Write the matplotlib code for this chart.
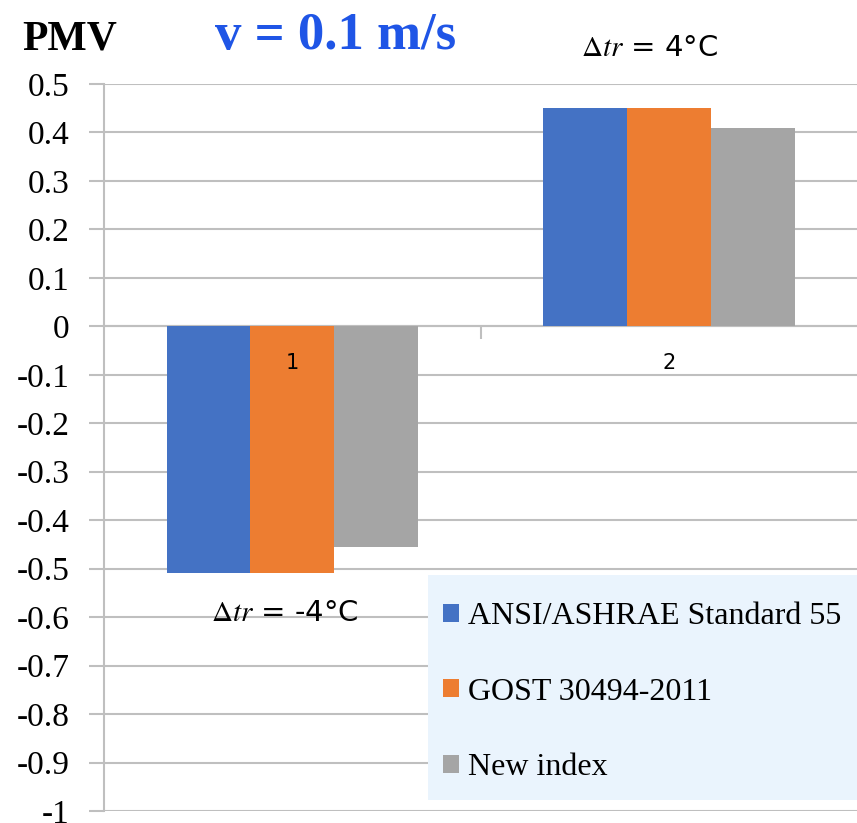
import matplotlib.pyplot as plt
from matplotlib.patches import Rectangle
from matplotlib.ticker import FixedLocator

# PMV values for the two radiant temperature asymmetry cases
categories = ["1", "2"]
ashrae = [-0.51, 0.45]
gost = [-0.51, 0.45]
new_index = [-0.455, 0.41]
series_names = ["ANSI/ASHRAE Standard 55", "GOST 30494-2011", "New index"]
case_labels = [r"$\Delta tr$ = -4°C", r"$\Delta tr$ = 4°C"]
y_ticks = [0.5, 0.4, 0.3, 0.2, 0.1, 0, -0.1, -0.2, -0.3, -0.4, -0.5,
           -0.6, -0.7, -0.8, -0.9, -1]

colors = ["#4472C4", "#ED7D31", "#A5A5A5"]
grid_col = "#BFBFBF"

plt.rcParams["mathtext.fontset"] = "stix"

fig = plt.figure(figsize=(8.57, 8.23), dpi=100)
ax = fig.add_axes([0.1214, 0.0146, 0.8786, 0.8834])

x = [1, 2]
w = 0.2227
for i, (vals, name) in enumerate(zip([ashrae, gost, new_index], series_names)):
    xs = [xi + (i - 1) * w for xi in x]
    ax.bar(xs, vals, width=w, color=colors[i], label=name, zorder=3)

ax.set_xlim(0.5, 2.5)
ax.set_ylim(-1, 0.5)

# y axis: gridlines every 0.1, labels in serif
ax.set_yticks(y_ticks)
ax.set_yticklabels([f"{v:g}" for v in y_ticks], fontfamily="Liberation Serif", fontsize=24)
ax.yaxis.grid(True, color=grid_col, linewidth=1.5, zorder=0)
ax.tick_params(axis="y", length=11, width=1.5, color=grid_col, pad=14)

# x axis sits on zero
ax.spines["bottom"].set_position(("data", 0))
ax.spines["bottom"].set_color(grid_col)
ax.spines["bottom"].set_linewidth(1.5)
ax.spines["left"].set_color(grid_col)
ax.spines["left"].set_linewidth(1.5)
ax.spines["top"].set_visible(False)
ax.spines["right"].set_visible(False)
ax.set_xticks([])
ax.xaxis.set_minor_locator(FixedLocator([1.5]))
ax.tick_params(axis="x", which="minor", length=9, width=1.5, color=grid_col)

# category labels drawn over the bars
for xi, lab in zip(x, categories):
    ax.text(xi, -0.075, lab, ha="center", va="center", fontsize=15,
            fontfamily="DejaVu Sans", zorder=5)

# case annotations
ax.text(1.95, 0.574, case_labels[1], ha="center", va="center", fontsize=21,
        fontfamily="DejaVu Sans", clip_on=False)
ax.text(0.98, -0.592, case_labels[0], ha="center", va="center", fontsize=21,
        fontfamily="DejaVu Sans", zorder=2)

# titles
fig.text(0.026, 0.940, "PMV", fontfamily="Liberation Serif", fontweight="bold",
         fontsize=30, va="baseline")
fig.text(0.251, 0.940, "v = 0.1 m/s", fontfamily="Liberation Serif", fontweight="bold",
         fontsize=38, color="#1F55E6", va="baseline")

# legend on a light blue panel
ax.add_patch(Rectangle((0.43, 0.015), 0.57, 0.31, transform=ax.transAxes,
                       facecolor="#EAF4FD", edgecolor="none", zorder=4))
leg = ax.legend(loc="upper left", bbox_to_anchor=(0.450, 0.287),
                borderaxespad=0, frameon=False,
                prop={"family": "Liberation Serif", "size": 23},
                handlelength=0.5, handleheight=0.5, handletextpad=0.3,
                labelspacing=1.45, borderpad=0)
leg.set_zorder(6)

fig.savefig("out.png", dpi=100)
